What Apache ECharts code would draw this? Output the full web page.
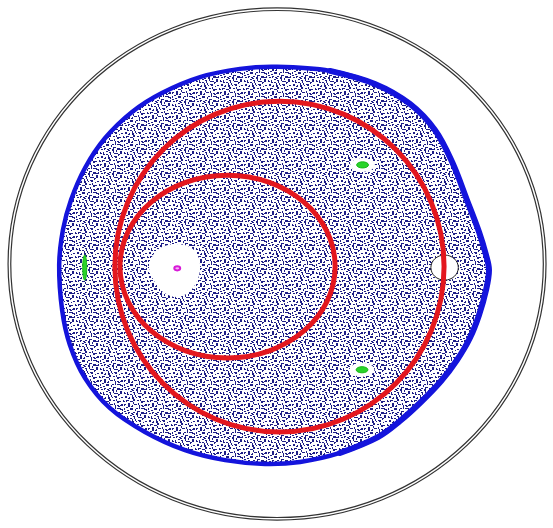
<!DOCTYPE html>
<html>
<head>
<meta charset="utf-8">
<script src="https://cdn.jsdelivr.net/npm/echarts@6/dist/echarts.min.js"></script>
<style>
  html, body { margin: 0; padding: 0; background: #fff; }
  #chart { width: 553px; height: 528px; }
</style>
</head>
<body>
<div id="chart"></div>
<script>
// units: radius of the outer boundary circle = 100
// outer edge of the chaotic sea (blue band)
var seaBoundary = [
  [0, 77.0], [19.7, 75.4], [36.4, 70.3], [49.4, 62.5], [58.7, 52.3], [65.1, 39.8],
  [70.6, 25.0], [75.1, 12.5], [77.7, 3.5], [78.8, -2.3], [77.7, -10.2], [75.1, -19.9],
  [71.7, -28.9], [66.9, -37.5], [61.0, -45.7], [53.5, -53.9], [45.7, -61.3], [37.5, -67.6],
  [23.4, -73.8], [8.6, -77.3], [-4.5, -78.1], [-19.3, -76.6], [-34.2, -72.7], [-49.1, -65.6],
  [-62.1, -56.3], [-71.4, -44.5], [-77.0, -31.6], [-79.9, -18.0], [-81.0, -0.4], [-79.6, 13.3],
  [-76.6, 25.0], [-71.4, 37.5], [-63.9, 49.2], [-53.9, 59.4], [-42.8, 66.8], [-28.6, 73.0],
  [-13.8, 76.2]
];
// thicker stretch of the band on the right
var seaRightEdge = seaBoundary.slice(1, 19);
// empty regular region round the magenta island
var magentaHole = [
  [-47.6, -1.6], [-46.1, 3.5], [-42.8, 6.6], [-37.5, 7.8], [-32.3, 6.6], [-29.4, 3.1],
  [-28.6, -1.6], [-29.7, -6.6], [-32.7, -10.9], [-37.2, -12.9], [-42.4, -10.9], [-45.7, -6.6]
];
// ellipses as [cx, cy, rx, ry]
var outerRings = [[0, 0, 100, 100], [0, 0, 99, 99]];
var redOrbits = [[0.9, -1.0, 61.2, 64.6], [-18.4, -1.0, 40.0, 35.7]];
var unstablePoint = [[62.3, -1.4, 5.1, 4.9]];
var greenHalos = [[31.8, 38.7, 4.6, 2.7], [31.6, -41.3, 4.6, 2.7]];
var greenIslands = [[31.8, 38.7, 2.2, 1.2], [31.6, -41.3, 2.2, 1.2], [-71.5, -1.4, 0.75, 4.9]];
var magentaIsland = [[-37.1, -1.7, 1.1, 0.8]];

// dotted texture for the sea
var tile = document.createElement('canvas');
tile.width = 24;
tile.height = 24;
var g = tile.getContext('2d');
g.fillStyle = '#1e1e86';
var dots = [
  [0,1,2,1],[4,0,1,2],[7,2,2,1],[11,0,2,2],[15,1,1,2],[18,3,2,1],[21,0,2,1],
  [2,4,1,2],[5,5,2,1],[9,4,1,1],[12,6,2,1],[16,5,2,2],[20,6,1,2],[23,4,1,2],
  [0,8,2,2],[4,9,2,1],[7,8,1,2],[10,10,2,1],[14,9,1,2],[18,9,2,1],[22,10,2,1],
  [1,13,2,1],[5,12,1,2],[8,14,2,1],[12,13,2,2],[16,13,1,1],[19,12,2,2],[23,14,1,1],
  [3,17,2,1],[6,16,1,2],[10,17,2,1],[13,18,1,2],[17,16,2,1],[21,17,2,2],
  [0,21,2,1],[4,20,1,2],[8,21,2,2],[11,22,2,1],[15,20,2,1],[19,21,1,2],[22,22,2,1]
];
[[0, 0], [13, 7]].forEach(function (o) {
  dots.forEach(function (d) {
    var x = (d[0] + o[0]) % 24, y = (d[1] + o[1]) % 24;
    g.fillRect(x, y, d[2], d[3]);
    g.fillRect(x - 24, y, d[2], d[3]);
    g.fillRect(x, y - 24, d[2], d[3]);
  });
});

function polygonSeries(points, style, z) {
  return {
    type: 'custom',
    z: z,
    silent: true,
    data: [0],
    renderItem: function (params, api) {
      return {
        type: 'polygon',
        shape: { points: points.map(function (p) { return api.coord(p); }), smooth: 0.35 },
        style: style
      };
    }
  };
}

function polylineSeries(points, style, z) {
  return {
    type: 'custom',
    z: z,
    silent: true,
    data: [0],
    renderItem: function (params, api) {
      return {
        type: 'polyline',
        shape: { points: points.map(function (p) { return api.coord(p); }), smooth: 0.35 },
        style: style
      };
    }
  };
}

function ellipseSeries(data, style, z) {
  return {
    type: 'custom',
    z: z,
    silent: true,
    data: data,
    renderItem: function (params, api) {
      var c = api.coord([api.value(0), api.value(1)]);
      var s = api.size([api.value(2), api.value(3)]);
      return {
        type: 'ellipse',
        shape: { cx: c[0], cy: c[1], rx: s[0], ry: s[1] },
        style: style
      };
    }
  };
}

var chart = echarts.init(document.getElementById('chart'));
chart.setOption({
  backgroundColor: '#fff',
  animation: false,
  grid: { left: 0, right: 0, top: 0, bottom: 0 },
  xAxis: { type: 'value', min: -103.0, max: 102.6, show: false },
  yAxis: { type: 'value', min: -103.1, max: 103.1, show: false },
  series: [
    ellipseSeries(outerRings, { fill: 'none', stroke: '#333', lineWidth: 1.2 }, 1),
    polygonSeries(seaBoundary, { fill: { image: tile, repeat: 'repeat' }, stroke: '#1414dc', lineWidth: 4.5, lineJoin: 'round' }, 2),
    polylineSeries(seaRightEdge, { fill: null, stroke: '#1414dc', lineWidth: 6, lineCap: 'round' }, 2),
    polygonSeries(magentaHole, { fill: '#fff', stroke: null }, 3),
    ellipseSeries(greenHalos, { fill: '#fff', stroke: null }, 3),
    ellipseSeries(unstablePoint, { fill: '#fff', stroke: '#222', lineWidth: 1 }, 4),
    ellipseSeries(redOrbits, { fill: 'none', stroke: '#e3171e', lineWidth: 5 }, 5),
    ellipseSeries(greenIslands, { fill: '#2ad42a', stroke: '#19b819', lineWidth: 1 }, 6),
    ellipseSeries(magentaIsland, { fill: '#f4b8f4', stroke: '#d81ad8', lineWidth: 2 }, 6)
  ]
});
</script>
</body>
</html>
